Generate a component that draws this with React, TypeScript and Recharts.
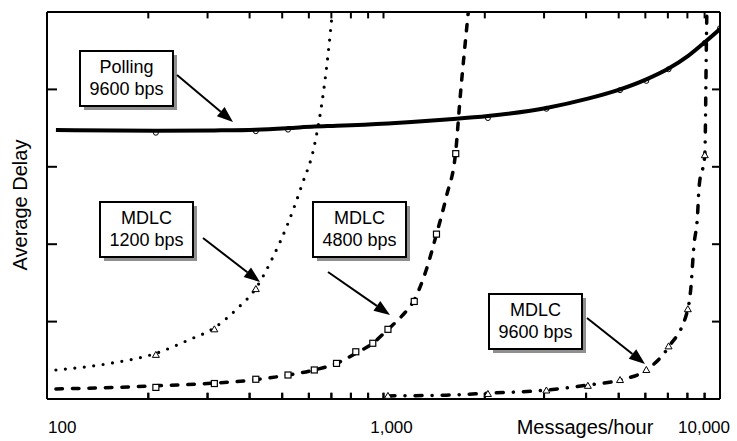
import React from "react";
import { ComposedChart, Line, Scatter, XAxis, YAxis } from "recharts";

const FONT = '"Liberation Sans", Arial, Helvetica, sans-serif';

// messages/hour -> average delay (axis units, frame = 0..5)
const pollingX = [100, 200, 300, 400, 500, 600, 700, 1000, 1500, 2000, 3000, 4000, 5000, 6000, 7000, 8000, 9000, 10000];
const pollingY = [3.475, 3.465, 3.47, 3.48, 3.5, 3.52, 3.53, 3.56, 3.61, 3.655, 3.76, 3.88, 4.0, 4.13, 4.27, 4.43, 4.61, 4.78];
const pollingMarkX = [200, 400, 500, 2000, 3000, 5000, 6000, 7000, 9000, 10000];
const pollingMarkY = [3.44, 3.46, 3.48, 3.63, 3.75, 3.99, 4.11, 4.26, 4.6, 4.79];

const mdlc1200X = [100, 150, 200, 250, 300, 350, 400, 450, 500, 550, 600, 640, 660, 680, 700];
const mdlc1200Y = [0.375, 0.47, 0.59, 0.76, 0.92, 1.16, 1.43, 1.83, 2.27, 2.76, 3.27, 3.98, 4.45, 5.0, 5.6];
const mdlc1200MarkX = [200, 300, 400];
const mdlc1200MarkY = [0.57, 0.9, 1.42];

const mdlc4800X = [100, 150, 200, 300, 400, 500, 600, 700, 800, 900, 1000, 1100, 1200, 1300, 1400, 1500, 1600, 1650, 1700, 1750, 1800];
const mdlc4800Y = [0.13, 0.15, 0.17, 0.205, 0.25, 0.31, 0.375, 0.46, 0.59, 0.72, 0.9, 1.07, 1.28, 1.65, 2.13, 2.62, 3.2, 3.9, 4.5, 5.05, 5.6];
const mdlc4800MarkX = [200, 300, 400, 500, 600, 700, 800, 900, 1000, 1200, 1400, 1600];
const mdlc4800MarkY = [0.15, 0.2, 0.255, 0.31, 0.375, 0.46, 0.61, 0.72, 0.9, 1.26, 2.13, 3.17];

const mdlc9600X = [1000, 1500, 2000, 3000, 4000, 5000, 6000, 7000, 8000, 8160, 8350, 8550, 8650, 9000, 9100, 9200];
const mdlc9600Y = [0.04, 0.05, 0.075, 0.115, 0.18, 0.245, 0.375, 0.67, 1.16, 1.41, 1.99, 2.35, 2.74, 3.15, 4.6, 6.0];
const mdlc9600MarkX = [1000, 2000, 3000, 4000, 5000, 6000, 7000, 8000, 9000];
const mdlc9600MarkY = [0.04, 0.065, 0.11, 0.17, 0.245, 0.375, 0.68, 1.16, 3.15];

const frameTicks = [200, 300, 400, 500, 600, 700, 800, 900, 1000, 2000, 3000, 4000, 5000, 6000, 7000, 8000, 9000];
const labelTicks = [100, 1000, 10000];
const labelText = ["100", "1,000", "10,000"];
const yTicks = [1, 2, 3, 4];

const PLOT_TOP = 12;
const DATA_DOMAIN: [number, number] = [94, 10000];

// the curves sit slightly right of the printed ticks, so the data axis runs from 94;
// this puts a frame tick value onto the data axis at the same pixel
const onDataAxis = (t: number) =>
  DATA_DOMAIN[0] * Math.pow(DATA_DOMAIN[1] / DATA_DOMAIN[0], Math.log10(t / 100) / 2);

const toPoints = (xs: number[], ys: number[]) => xs.map((x, i) => ({ x, y: ys[i] }));

const topTicks = toPoints(frameTicks.map(onDataAxis), frameTicks.map(() => 4.96));
const bottomTicks = toPoints(frameTicks.map(onDataAxis), frameTicks.map(() => 0.04));

const axisStroke = { stroke: "#000", strokeWidth: 2 };

const Triangle = (p: any) => (
  <polygon
    points={`${p.cx},${p.cy - 3.5} ${p.cx - 3.5},${p.cy + 2.5} ${p.cx + 3.5},${p.cy + 2.5}`}
    fill="#fff"
    stroke="#000"
    strokeWidth={1}
  />
);
const Square = (p: any) => (
  <rect x={p.cx - 3} y={p.cy - 3} width={6} height={6} fill="#fff" stroke="#000" strokeWidth={1.2} />
);
const Circle = (p: any) => <circle cx={p.cx} cy={p.cy} r={2.5} fill="none" stroke="#000" strokeWidth={1} />;
const TickMark = (p: any) => (
  <line x1={p.cx} y1={p.cy - 3.3} x2={p.cx} y2={p.cy + 3.3} stroke="#000" strokeWidth={2} />
);
const Nothing = () => <g />;

const TickLabel = (props: any) => {
  const { x, payload } = props;
  const i = labelTicks.indexOf(payload.value);
  if (i < 0) return <g />;
  const anchor = i === 0 ? "start" : i === 2 ? "end" : "middle";
  const dx = i === 0 ? 1 : i === 2 ? 10 : 8;
  return (
    <text x={x + dx} y={433} textAnchor={anchor} fontSize={17} fontFamily={FONT} fill="#000">
      {labelText[i]}
    </text>
  );
};

function Callout({ x, y, lines }: { x: number; y: number; lines: string[] }) {
  const w = 93;
  const h = 55;
  return (
    <g>
      <rect x={x + 4} y={y + 4} width={w} height={h} fill="#8f8f8f" />
      <rect x={x} y={y} width={w} height={h} fill="#fff" stroke="#000" strokeWidth={2} />
      {lines.map((t, i) => (
        <text key={i} x={x + w / 2} y={y + 22 + i * 22} textAnchor="middle" fontSize={18} fontFamily={FONT} fill="#000">
          {t}
        </text>
      ))}
    </g>
  );
}

function Arrow({ x1, y1, x2, y2 }: { x1: number; y1: number; x2: number; y2: number }) {
  const len = Math.hypot(x2 - x1, y2 - y1);
  const ux = (x2 - x1) / len;
  const uy = (y2 - y1) / len;
  const bx = x2 - ux * 16;
  const by = y2 - uy * 16;
  const pts = `${x2},${y2} ${bx - uy * 6},${by + ux * 6} ${bx + uy * 6},${by - ux * 6}`;
  return (
    <g>
      <line x1={x1} y1={y1} x2={bx} y2={by} stroke="#000" strokeWidth={2} />
      <polygon points={pts} fill="#000" />
    </g>
  );
}

export default function App() {
  return (
    <div style={{ position: "absolute", left: 0, top: 0, background: "#fff" }}>
      <ComposedChart width={737} height={441} margin={{ top: PLOT_TOP, right: 17, bottom: 12, left: 47 }}>
        <XAxis xAxisId="data" dataKey="x" type="number" scale="log" domain={DATA_DOMAIN} allowDataOverflow hide />
        <XAxis
          xAxisId="bottom"
          dataKey="x"
          type="number"
          scale="log"
          domain={[100, 10000]}
          allowDataOverflow
          ticks={frameTicks}
          interval={0}
          mirror
          tick={Nothing}
          tickSize={6}
          axisLine={axisStroke}
          tickLine={axisStroke}
        />
        <XAxis
          xAxisId="top"
          dataKey="x"
          orientation="top"
          type="number"
          scale="log"
          domain={[100, 10000]}
          allowDataOverflow
          mirror
          tick={Nothing}
          tickLine={false}
          axisLine={axisStroke}
        />
        <XAxis
          xAxisId="labels"
          dataKey="x"
          type="number"
          scale="log"
          domain={[100, 10000]}
          allowDataOverflow
          ticks={labelTicks}
          interval={0}
          height={30}
          axisLine={false}
          tickLine={false}
          tickSize={0}
          tickMargin={0}
          tick={TickLabel}
        />
        <YAxis
          yAxisId="left"
          dataKey="y"
          type="number"
          domain={[0, 5]}
          allowDataOverflow
          ticks={yTicks}
          interval={0}
          mirror
          tick={Nothing}
          tickSize={10}
          axisLine={axisStroke}
          tickLine={axisStroke}
        />
        <YAxis
          yAxisId="right"
          dataKey="y"
          orientation="right"
          type="number"
          domain={[0, 5]}
          allowDataOverflow
          ticks={yTicks}
          interval={0}
          mirror
          tick={Nothing}
          tickSize={8}
          axisLine={axisStroke}
          tickLine={axisStroke}
        />

        {/* invisible anchors so the frame axes get their own scales */}
        <Scatter xAxisId="bottom" yAxisId="right" data={toPoints(labelTicks, [0, 0, 0])} shape={Nothing} isAnimationActive={false} />
        <Scatter xAxisId="top" yAxisId="right" data={toPoints(labelTicks, [0, 0, 0])} shape={Nothing} isAnimationActive={false} />
        <Scatter xAxisId="labels" yAxisId="right" data={toPoints(labelTicks, [0, 0, 0])} shape={Nothing} isAnimationActive={false} />

        {/* inward log ticks on the top and bottom edges */}
        <Scatter xAxisId="data" yAxisId="left" data={topTicks} shape={TickMark} isAnimationActive={false} />
        <Scatter xAxisId="data" yAxisId="left" data={bottomTicks} shape={TickMark} isAnimationActive={false} />

        <Scatter xAxisId="data" yAxisId="left" data={toPoints(pollingMarkX, pollingMarkY)} shape={Circle} isAnimationActive={false} />
        <Line
          xAxisId="data"
          yAxisId="left"
          data={toPoints(pollingX, pollingY)}
          dataKey="y"
          type="monotone"
          stroke="#000"
          strokeWidth={4}
          dot={false}
          activeDot={false}
          isAnimationActive={false}
        />
        <Line
          xAxisId="data"
          yAxisId="left"
          data={toPoints(mdlc1200X, mdlc1200Y)}
          dataKey="y"
          type="monotone"
          stroke="#000"
          strokeWidth={3.2}
          strokeDasharray="0 9.5"
          strokeLinecap="round"
          dot={false}
          activeDot={false}
          isAnimationActive={false}
        />
        <Line
          xAxisId="data"
          yAxisId="left"
          data={toPoints(mdlc4800X, mdlc4800Y)}
          dataKey="y"
          type="monotone"
          stroke="#000"
          strokeWidth={3.5}
          strokeDasharray="6.5 10"
          strokeLinecap="round"
          dot={false}
          activeDot={false}
          isAnimationActive={false}
        />
        <Line
          xAxisId="data"
          yAxisId="left"
          data={toPoints(mdlc9600X, mdlc9600Y)}
          dataKey="y"
          type="monotone"
          stroke="#000"
          strokeWidth={3.5}
          strokeDasharray="7 10 0.1 10"
          strokeLinecap="round"
          dot={false}
          activeDot={false}
          isAnimationActive={false}
        />
        <Scatter xAxisId="data" yAxisId="left" data={toPoints(mdlc1200MarkX, mdlc1200MarkY)} shape={Triangle} isAnimationActive={false} />
        <Scatter xAxisId="data" yAxisId="left" data={toPoints(mdlc4800MarkX, mdlc4800MarkY)} shape={Square} isAnimationActive={false} />
        <Scatter xAxisId="data" yAxisId="left" data={toPoints(mdlc9600MarkX, mdlc9600MarkY)} shape={Triangle} isAnimationActive={false} />

        <g>
          <text transform="translate(27,205) rotate(-90)" textAnchor="middle" fontSize={20} fontFamily={FONT} fill="#000">
            Average Delay
          </text>
          <text x={585} y={434} textAnchor="middle" fontSize={20} fontFamily={FONT} fill="#000">
            Messages/hour
          </text>
          <Callout x={80} y={51} lines={["Polling", "9600 bps"]} />
          <Callout x={100} y={202} lines={["MDLC", "1200 bps"]} />
          <Callout x={313} y={202} lines={["MDLC", "4800 bps"]} />
          <Callout x={489} y={294} lines={["MDLC", "9600 bps"]} />
          <Arrow x1={177} y1={75} x2={233} y2={122} />
          <Arrow x1={203} y1={238} x2={260} y2={282} />
          <Arrow x1={328} y1={272} x2={390} y2={315} />
          <Arrow x1={587} y1={318} x2={645} y2={364} />
        </g>
      </ComposedChart>
    </div>
  );
}
